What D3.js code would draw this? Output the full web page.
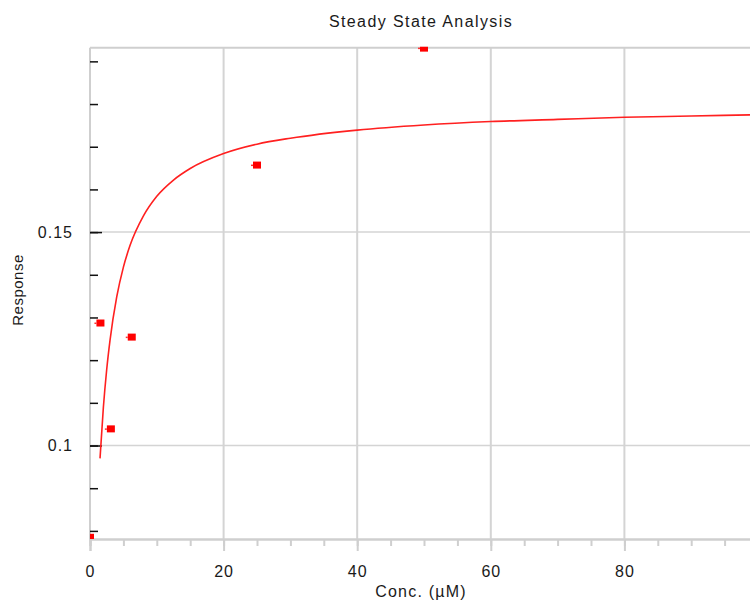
<!DOCTYPE html>
<html lang="en">
<head>
<meta charset="UTF-8">
<title>Steady State Analysis</title>
<script src="https://d3js.org/d3.v7.min.js"></script>
<style>
  body { margin: 0; background: #fff; }
  text { font-family: "Liberation Sans", Arial, sans-serif; fill: #1a1a1a; }
</style>
</head>
<body>
<script>
// measured points
const conc = [0, 1.5625, 3.125, 6.25, 25, 50];
const response = [0.0785, 0.1287, 0.1039, 0.1254, 0.1657, 0.1931];

// fitted curve
const fitConc = [1.5, 2, 2.5, 3, 4, 5, 6, 8, 10, 12.5, 15, 20, 25, 30, 40, 50, 60, 70, 80, 90, 100];
const fitResp = [0.0970, 0.1089, 0.1178, 0.1247, 0.1348, 0.1418, 0.1469, 0.1538, 0.1584, 0.1622,
                 0.1649, 0.1684, 0.1706, 0.1720, 0.1739, 0.1751, 0.1759, 0.1764, 0.1769, 0.1772, 0.1775];

const xTicks = [0, 20, 40, 60, 80];
const yTicks = [0.1, 0.15];

const width = 750, height = 601;
const plot = { left: 90, top: 47.7, right: 758, bottom: 539 };

const svg = d3.select("body")
    .append("svg")
        .attr("width", width)
        .attr("height", height);

const x = d3.scaleLinear().domain([0, 100]).range([plot.left, plot.right]);
const y = d3.scaleLinear().domain([0.0781, 0.1932]).range([plot.bottom, plot.top]);

svg.append("clipPath").attr("id", "clip")
    .append("rect")
    .attr("x", plot.left).attr("y", plot.top - 1)
    .attr("width", plot.right - plot.left).attr("height", plot.bottom - plot.top + 1);

// grid
svg.append("g")
    .selectAll("line")
    .data(xTicks.slice(1))
    .join("line")
        .attr("x1", d => x(d)).attr("x2", d => x(d))
        .attr("y1", plot.top).attr("y2", plot.bottom)
        .attr("stroke", "#d4d4d4").attr("stroke-width", 2);

svg.append("g")
    .selectAll("line")
    .data(yTicks)
    .join("line")
        .attr("x1", plot.left).attr("x2", width)
        .attr("y1", d => y(d)).attr("y2", d => y(d))
        .attr("stroke", "#d4d4d4").attr("stroke-width", 1.5);

// frame: top
svg.append("line")
    .attr("x1", plot.left).attr("x2", width).attr("y1", plot.top).attr("y2", plot.top)
    .attr("stroke", "#cfcfcf").attr("stroke-width", 2);

// x axis: minor + major ticks
const xMinor = svg.append("g")
    .attr("transform", `translate(0,${plot.bottom})`)
    .call(d3.axisBottom(x).tickValues(d3.range(0, 101, 5)).tickSize(7).tickFormat(""));
const xMajor = svg.append("g")
    .attr("transform", `translate(0,${plot.bottom})`)
    .call(d3.axisBottom(x).tickValues(xTicks).tickSize(12).tickPadding(15).tickFormat(d3.format("d")));
[xMinor, xMajor].forEach(g => {
    g.select(".domain").attr("stroke", "#cfcfcf").attr("stroke-width", 2);
    g.selectAll(".tick line").attr("stroke", "#cfcfcf").attr("stroke-width", 2);
});
xMajor.selectAll("text").attr("font-size", 16).attr("letter-spacing", 1).attr("fill", "#1a1a1a");

// left axis line
svg.append("line")
    .attr("x1", plot.left).attr("x2", plot.left).attr("y1", plot.top).attr("y2", plot.bottom)
    .attr("stroke", "#cfcfcf").attr("stroke-width", 2);

// y axis ticks (black, inside)
svg.append("g")
    .attr("transform", `translate(${plot.left},0)`)
    .call(d3.axisRight(y).tickValues(d3.range(8, 20).map(v => v / 100)).tickSize(8).tickFormat(""))
    .call(g => g.select(".domain").remove())
    .call(g => g.selectAll(".tick line").attr("stroke", "#111").attr("stroke-width", 1.5));

svg.append("g")
    .attr("transform", `translate(${plot.left},0)`)
    .call(d3.axisRight(y).tickValues(yTicks).tickSize(12).tickFormat(""))
    .call(g => g.select(".domain").remove())
    .call(g => g.selectAll(".tick line").attr("stroke", "#111").attr("stroke-width", 1.5));

svg.append("g")
    .attr("transform", `translate(${plot.left},0)`)
    .call(d3.axisLeft(y).tickValues(yTicks).tickSize(0).tickPadding(17).tickFormat(d => d))
    .call(g => g.select(".domain").remove())
    .call(g => g.selectAll("text").attr("font-size", 16).attr("letter-spacing", 1).attr("fill", "#1a1a1a"));

// fitted curve
const fit = fitConc.map((c, i) => [c, fitResp[i]]);
const line = d3.line()
    .x(d => x(d[0]))
    .y(d => y(d[1]))
    .curve(d3.curveMonotoneX);

svg.append("path")
    .datum(fit)
    .attr("clip-path", "url(#clip)")
    .attr("fill", "none")
    .attr("stroke", "#ff2020")
    .attr("stroke-width", 1.6)
    .attr("d", line);

// points
const pts = svg.append("g").attr("clip-path", "url(#clip)");
const pdata = conc.map((c, i) => ({ c, r: response[i] }));
pts.selectAll("rect.pt")
    .data(pdata)
    .join("rect")
        .attr("class", "pt")
        .attr("x", d => x(d.c) - 4)
        .attr("y", d => y(d.r) - 3.5)
        .attr("width", 8)
        .attr("height", 7)
        .attr("fill", "#ff0000");
pts.selectAll("rect.stub")
    .data(pdata)
    .join("rect")
        .attr("class", "stub")
        .attr("x", d => x(d.c) - 6)
        .attr("y", d => y(d.r) - 0.5)
        .attr("width", 2)
        .attr("height", 1.5)
        .attr("fill", "#ff3030");

// titles
svg.append("text")
    .attr("x", 421).attr("y", 27)
    .attr("text-anchor", "middle")
    .attr("font-size", 16).attr("letter-spacing", 1.4)
    .text("Steady State Analysis");

svg.append("text")
    .attr("x", 421).attr("y", 597)
    .attr("text-anchor", "middle")
    .attr("font-size", 16).attr("letter-spacing", 1.2)
    .text("Conc. (µM)");

svg.append("text")
    .attr("transform", "rotate(-90)")
    .attr("x", -290).attr("y", 23)
    .attr("text-anchor", "middle")
    .attr("font-size", 15).attr("letter-spacing", 0.5)
    .text("Response");
</script>
</body>
</html>
